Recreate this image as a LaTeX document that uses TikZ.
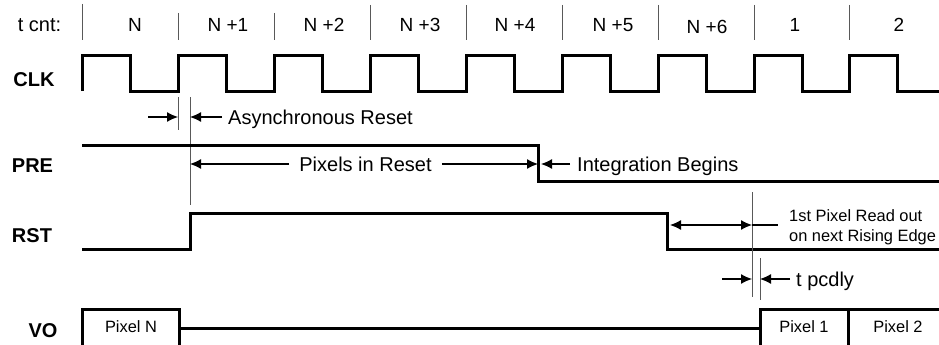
\documentclass[tikz,border=0pt]{standalone}
\usepackage{fontspec}
\setmainfont{Liberation Sans}
\usetikzlibrary{arrows.meta}
\tikzset{
  tip/.tip={Latex[length=11pt,width=10pt]},
  sig/.style={line width=3pt},
  guide/.style={line width=1pt,black!65},
  dim/.style={line width=1.2pt,-tip},
  lab/.style={font=\fontsize{20}{24}\selectfont,inner sep=0pt,text height=14.3pt,text depth=0pt},
  cnt/.style={font=\fontsize{19}{23}\selectfont,inner sep=0pt,anchor=base},
  sname/.style={font=\fontsize{20}{24}\selectfont\bfseries,inner sep=0pt,anchor=base},
  small/.style={font=\fontsize{16.4}{20}\selectfont,inner sep=0pt}
}
\begin{document}
\begin{tikzpicture}[x=1pt,y=-1pt]
\useasboundingbox (0,0) rectangle (939,345);
\clip (0,0) rectangle (939,345);
\node[lab,anchor=base] (tcnt) at (39.5,32) {t cnt:};
\draw[guide] (82,4) -- (82,40) (178,13) -- (178,40) (274,13) -- (274,40) (370,5) -- (370,40) (466,5) -- (466,40) (562,5) -- (562,40) (658,5) -- (658,40) (754,5) -- (754,40) (849,5) -- (849,40);
\node[cnt] (c0) at (135,32) {N};
\node[cnt] (c1) at (228,32) {N +1};
\node[cnt] (c2) at (324,32) {N +2};
\node[cnt] (c3) at (420,32) {N +3};
\node[cnt] (c4) at (515,32) {N +4};
\node[cnt] (c5) at (613,32) {N +5};
\node[cnt] (c6) at (707,34) {N +6};
\node[cnt] (c7) at (795,32) {1};
\node[cnt] (c8) at (899,32) {2};
\node[sname] (clk) at (34,86) {CLK};
\draw[sig] (82,91) -- (82,56) -- (130,56) -- (130,91) -- (178,91) -- (178,56) -- (226,56) -- (226,91) -- (274,91) -- (274,56) -- (322,56) -- (322,91) -- (370,91) -- (370,56) -- (418,56) -- (418,91) -- (466,91) -- (466,56) -- (514,56) -- (514,91) -- (562,91) -- (562,56) -- (610,56) -- (610,91) -- (658,91) -- (658,56) -- (706,56) -- (706,91) -- (754,91) -- (754,56) -- (802,56) -- (802,91) -- (849,91) -- (849,56) -- (897,56) -- (897,91) -- (939,91);
\coordinate (ar1) at (178,97);
\coordinate (ar2) at (190,97);
\draw[guide] (ar1) -- (178,130);
\draw[guide] (ar2) -- (190,205);
\node[lab,anchor=west,inner xsep=6pt] (async) at (222,117) {Asynchronous Reset};
\draw[dim] (148,117) -- (ar1 |- async.west);
\draw[dim] (async.west) -- (ar2 |- async.west);
\node[sname] (pre) at (32.5,172) {PRE};
\draw[sig] (82,145) -- (538,145) -- (538,181) -- (939,181);
\coordinate (pdn) at (538,164);
\node[lab,inner xsep=10pt] (pir) at (365.5,164) {Pixels in Reset};
\draw[dim] (pir.west) -- (ar2 |- pir.west);
\draw[dim] (pir.east) -- (pdn);
\node[lab,anchor=west,inner xsep=7pt] (integ) at (570,164) {Integration Begins};
\draw[dim] (integ.west) -- ([xshift=3pt]pdn);
\node[sname] (rst) at (32,242) {RST};
\draw[sig] (82,249) -- (190,249) -- (190,213) -- (667,213) -- (667,249) -- (939,249);
\coordinate (rd) at (752,225);
\draw[guide] (752,192) -- (752,297);
\draw[dim,tip-tip] (670,225) -- (rd);
\draw[line width=1.2pt] (rd) -- (778,225);
\node[small,anchor=base west] (rd1) at (789,221) {1st Pixel Read out};
\node[small,anchor=base west] (rd2) at (789,241) {on next Rising Edge};
\coordinate (pd) at (760,279);
\draw[guide] (760,258) -- (760,300);
\draw[dim] (722,279) -- (rd |- pd);
\node[lab,anchor=west,inner xsep=6pt] (tpd) at (790,279) {t pcdly};
\draw[dim] (tpd.west) -- (pd);
\node[sname] (vo) at (43,337) {VO};
\draw[sig] (82,360) -- (82,309) -- (179,309) -- (179,360);
\draw[sig] (179,328) -- (760,328);
\draw[sig] (760,360) -- (760,309) -- (950,309) (848,309) -- (848,360);
\node[small,anchor=base] (pixn) at (131,332) {Pixel N};
\node[small,anchor=base] (pix1) at (804,332) {Pixel 1};
\node[small,anchor=base] (pix2) at (898,332) {Pixel 2};
\end{tikzpicture}
\end{document}
